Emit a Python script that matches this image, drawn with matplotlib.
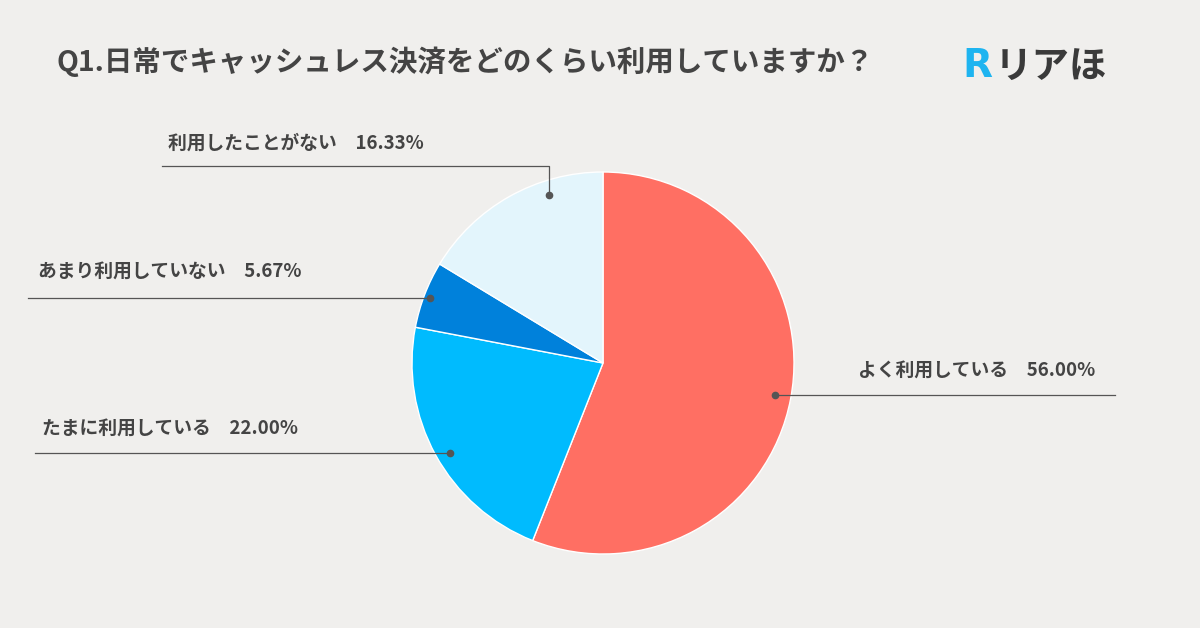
import matplotlib.pyplot as plt

plt.rcParams["font.family"] = "Noto Sans CJK JP"

labels = ["よく利用している", "たまに利用している", "あまり利用していない", "利用したことがない"]
values = [56.00, 22.00, 5.67, 16.33]
colors = ["#FF6F63", "#00BBFE", "#0081DB", "#E3F5FC"]

H = 628
fig = plt.figure(figsize=(12, 6.28), dpi=100, facecolor="#F0EFED")
ax = fig.add_axes([0, 0, 1, 1])
ax.set_xlim(0, 1200)
ax.set_ylim(0, H)
ax.set_aspect("equal")
ax.set_axis_off()

ax.pie(values, colors=colors, startangle=90, counterclock=False,
       center=(603, H - 363), radius=191,
       wedgeprops=dict(edgecolor="white", linewidth=1))
ax.set_xlim(0, 1200)
ax.set_ylim(0, H)

# leader lines: dot, path, label position
leaders = [
    [(775, 395), (1115, 395)],
    [(450, 453), (35, 453)],
    [(430, 298), (28, 298)],
    [(549, 195), (549, 166), (162, 166)],
]
text_pos = [(858, 370), (42, 428), (38, 271), (168, 143)]
lc = "#555555"
for lab, v, pts, (tx, ty) in zip(labels, values, leaders, text_pos):
    xs = [p[0] for p in pts]
    ys = [H - p[1] for p in pts]
    ax.plot(xs, ys, color=lc, lw=0.9)
    ax.plot(xs[0], ys[0], "o", color=lc, ms=4.5)
    ax.text(tx, H - ty, f"{lab}　{v:.2f}%", fontsize=13.5, fontweight="bold",
            color="#444444", va="center", ha="left")

ax.text(57, H - 62, "Q1.日常でキャッシュレス決済をどのくらい利用していますか？",
        fontsize=20.5, fontweight="bold", color="#444444", va="center", ha="left")
ax.text(962, H - 66, "R", fontsize=28, fontweight="bold", color="#1EB4F0",
        va="center", ha="left", family="DejaVu Sans")
ax.text(995, H - 66, "リアほ", fontsize=27, fontweight="bold", color="#3A3A3A",
        va="center", ha="left")

fig.savefig("out.png", dpi=100, facecolor=fig.get_facecolor())
